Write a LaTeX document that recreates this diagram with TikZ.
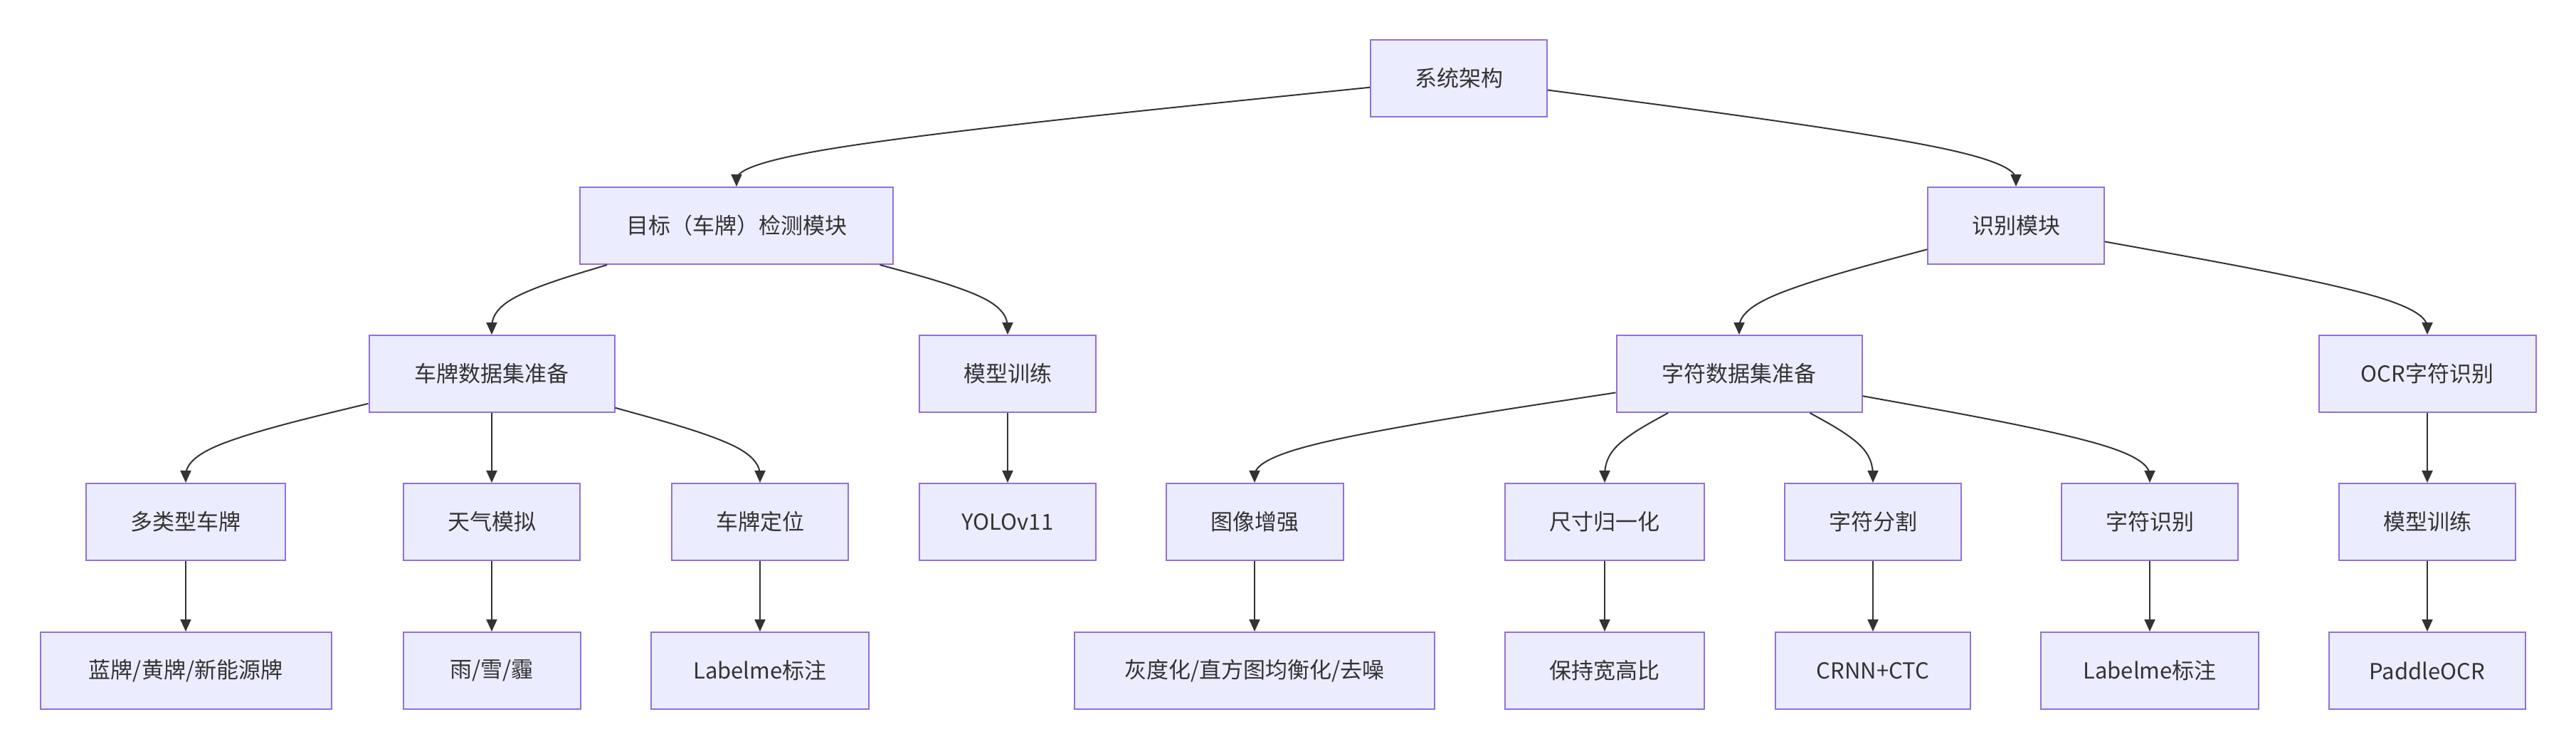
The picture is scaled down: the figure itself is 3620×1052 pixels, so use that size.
\documentclass[tikz,border=0pt]{standalone}
\usepackage{fontspec}
\setmainfont{Noto Sans CJK SC}
\usetikzlibrary{arrows.meta,calc}
\definecolor{boxfill}{HTML}{ECECFF}
\definecolor{boxline}{HTML}{9370DB}
\definecolor{txt}{HTML}{333333}
\definecolor{edgecol}{HTML}{333333}
\tikzset{
  box/.style={draw=boxline, fill=boxfill, line width=1pt, inner sep=0pt,
    minimum height=54pt, text=txt, font=\fontsize{15.5pt}{18pt}\selectfont, align=center},
  edge/.style={draw=edgecol, line width=1pt, -{Triangle[length=8.5pt,width=7.5pt]}}
}
\newcommand\basisedge[2]{%
  \path let \p1=(#1.south), \p2=(#2.north) in
    coordinate (P2) at (\p2)
    coordinate (P1) at (\x2,{(\y1+\y2)/2});
  \path (#1) -- (P1) coordinate[pos=0] (P0);
  \draw[edge] (P0) -- ($(P0)!1/6!(P1)$)
    .. controls ($(P0)!1/3!(P1)$) and ($(P0)!2/3!(P1)$) ..
    ($0.1666667*(P0)+0.6666667*(P1)+0.1666667*(P2)$)
    .. controls ($(P1)!1/3!(P2)$) and ($(P1)!2/3!(P2)$) ..
    ($(P1)!5/6!(P2)$) -- (P2);
}
\begin{document}
\begin{tikzpicture}[x=0.5pt,y=-0.5pt]
\useasboundingbox (0,0) rectangle (3620,1052);
% row 1
\node[box, minimum width=124pt] (sys) at (2050,110) {系统架构};
% row 2
\node[box, minimum width=220pt] (det) at (1035,317) {目标（车牌）检测模块};
\node[box, minimum width=124pt] (rec) at (2833,317) {识别模块};
% row 3
\node[box, minimum width=172.5pt] (pds) at (691,525) {车牌数据集准备};
\node[box, minimum width=124pt] (mta) at (1416,525) {模型训练};
\node[box, minimum width=172.5pt] (cds) at (2444,525) {字符数据集准备};
\node[box, minimum width=152.5pt] (ocr) at (3411,525) {OCR字符识别};
% row 4
\node[box, minimum width=140pt] (multi) at (261,733) {多类型车牌};
\node[box, minimum width=124pt] (weather) at (691,733) {天气模拟};
\node[box, minimum width=124pt] (loc) at (1068,733) {车牌定位};
\node[box, minimum width=124pt] (yolo) at (1416,733) {YOLOv11};
\node[box, minimum width=124.5pt] (aug) at (1763,733) {图像增强};
\node[box, minimum width=140pt] (norm) at (2255,733) {尺寸归一化};
\node[box, minimum width=124pt] (seg) at (2632,733) {字符分割};
\node[box, minimum width=124pt] (crec) at (3021,733) {字符识别};
\node[box, minimum width=124pt] (mtb) at (3411,733) {模型训练};
% row 5
\node[box, minimum width=204.5pt] (blue) at (261,942) {蓝牌/黄牌/新能源牌};
\node[box, minimum width=124.5pt] (rain) at (691,942) {雨/雪/霾};
\node[box, minimum width=153pt] (laba) at (1068,942) {Labelme标注};
\node[box, minimum width=253pt] (gray) at (1763,942) {灰度化/直方图均衡化/去噪};
\node[box, minimum width=140pt] (keep) at (2255,942) {保持宽高比};
\node[box, minimum width=137pt] (crnn) at (2632,942) {CRNN+CTC};
\node[box, minimum width=153pt] (labb) at (3021,942) {Labelme标注};
\node[box, minimum width=138pt] (paddle) at (3411,942) {PaddleOCR};
% edges
\basisedge{sys}{det}
\basisedge{sys}{rec}
\basisedge{det}{pds}
\basisedge{det}{mta}
\basisedge{rec}{cds}
\basisedge{rec}{ocr}
\basisedge{pds}{multi}
\basisedge{pds}{weather}
\basisedge{pds}{loc}
\draw[edge] (mta) -- (yolo);
\basisedge{cds}{aug}
\basisedge{cds}{norm}
\basisedge{cds}{seg}
\basisedge{cds}{crec}
\draw[edge] (ocr) -- (mtb);
\draw[edge] (multi) -- (blue);
\draw[edge] (weather) -- (rain);
\draw[edge] (loc) -- (laba);
\draw[edge] (aug) -- (gray);
\draw[edge] (norm) -- (keep);
\draw[edge] (seg) -- (crnn);
\draw[edge] (crec) -- (labb);
\draw[edge] (mtb) -- (paddle);
\end{tikzpicture}
\end{document}
